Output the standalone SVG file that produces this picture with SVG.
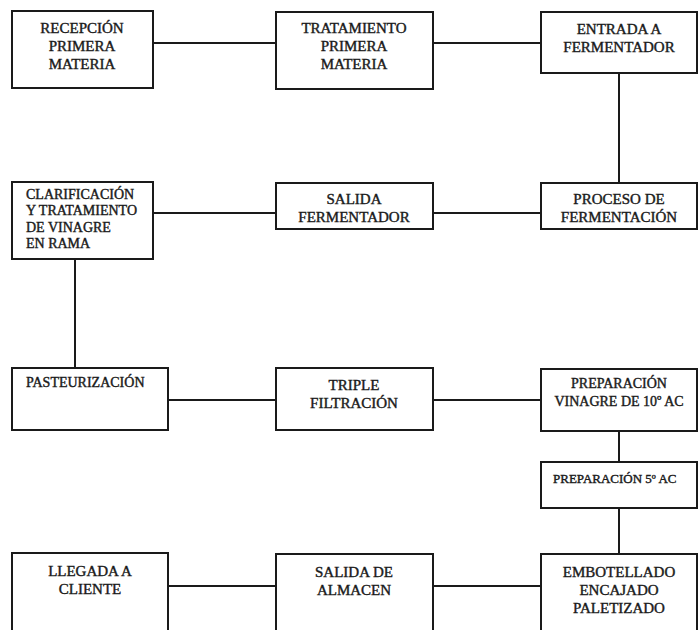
<svg xmlns="http://www.w3.org/2000/svg" width="700" height="630" viewBox="0 0 700 630">
<style>
.box{fill:#fff;stroke:#1a1a1a;stroke-width:2}
.ln{stroke:#1a1a1a;stroke-width:2;fill:none}
text{font-family:"Liberation Serif","Times New Roman",serif;fill:#1a1a1a;stroke:#1a1a1a;stroke-width:0.4;font-size:15px}
.c{text-anchor:middle}
.s{font-size:14px}
.xs{font-size:13px}
</style>
<rect width="700" height="630" fill="#fff"/>
<g id="connectors">
<line class="ln" x1="153" y1="43" x2="276" y2="43"/>
<line class="ln" x1="433" y1="43" x2="541" y2="43"/>
<line class="ln" x1="619" y1="73" x2="619" y2="183"/>
<line class="ln" x1="433" y1="213" x2="541" y2="213"/>
<line class="ln" x1="153" y1="213" x2="276" y2="213"/>
<line class="ln" x1="75" y1="259" x2="75" y2="368"/>
<line class="ln" x1="168" y1="400" x2="276" y2="400"/>
<line class="ln" x1="433" y1="400" x2="541" y2="400"/>
<line class="ln" x1="619" y1="431" x2="619" y2="462"/>
<line class="ln" x1="619" y1="508" x2="619" y2="553"/>
<line class="ln" x1="433" y1="586" x2="541" y2="586"/>
<line class="ln" x1="168" y1="586" x2="276" y2="586"/>
</g>
<g id="recepcion">
<rect class="box" x="12" y="11" width="141" height="77"/>
<text class="c" x="82" y="33">RECEPCIÓN</text>
<text class="c" x="82" y="51">PRIMERA</text>
<text class="c" x="82" y="69">MATERIA</text>
</g>
<g id="tratamiento">
<rect class="box" x="276" y="12" width="157" height="77"/>
<text class="c" x="354" y="33">TRATAMIENTO</text>
<text class="c" x="354" y="51">PRIMERA</text>
<text class="c" x="354" y="69">MATERIA</text>
</g>
<g id="entrada">
<rect class="box" x="541" y="12" width="156" height="61"/>
<text class="c" x="619" y="34">ENTRADA A</text>
<text class="c" x="619" y="52">FERMENTADOR</text>
</g>
<g id="clarificacion">
<rect class="box" x="12" y="182" width="141" height="77"/>
<text class="s" x="26" y="199">CLARIFICACIÓN</text>
<text class="s" x="26" y="215">Y TRATAMIENTO</text>
<text class="s" x="26" y="232">DE VINAGRE</text>
<text class="s" x="26" y="248">EN RAMA</text>
</g>
<g id="salida-fermentador">
<rect class="box" x="276" y="183" width="157" height="46"/>
<text class="c" x="354" y="204">SALIDA</text>
<text class="c" x="354" y="222">FERMENTADOR</text>
</g>
<g id="proceso">
<rect class="box" x="541" y="183" width="156" height="46"/>
<text class="c" x="619" y="204">PROCESO DE</text>
<text class="c" x="619" y="222">FERMENTACIÓN</text>
</g>
<g id="pasteurizacion">
<rect class="box" x="12" y="368" width="156" height="62"/>
<text class="s" x="26" y="387">PASTEURIZACIÓN</text>
</g>
<g id="triple">
<rect class="box" x="276" y="368" width="157" height="62"/>
<text class="c" x="354" y="390">TRIPLE</text>
<text class="c" x="354" y="408">FILTRACIÓN</text>
</g>
<g id="prep10">
<rect class="box" x="541" y="369" width="156" height="62"/>
<text class="c s" x="619" y="388">PREPARACIÓN</text>
<text class="c s" x="619" y="406">VINAGRE DE 10º AC</text>
</g>
<g id="prep5">
<rect class="box" x="541" y="462" width="156" height="46"/>
<text class="xs" x="553" y="483">PREPARACIÓN 5º AC</text>
</g>
<g id="llegada">
<rect class="box" x="12" y="553" width="156" height="90"/>
<text class="c" x="90" y="576">LLEGADA A</text>
<text class="c" x="90" y="594">CLIENTE</text>
</g>
<g id="salida-almacen">
<rect class="box" x="276" y="554" width="157" height="90"/>
<text class="c" x="354" y="577">SALIDA DE</text>
<text class="c" x="354" y="595">ALMACEN</text>
</g>
<g id="embotellado">
<rect class="box" x="541" y="554" width="156" height="90"/>
<text class="c" x="619" y="577">EMBOTELLADO</text>
<text class="c" x="619" y="595">ENCAJADO</text>
<text class="c" x="619" y="613">PALETIZADO</text>
</g>
</svg>
